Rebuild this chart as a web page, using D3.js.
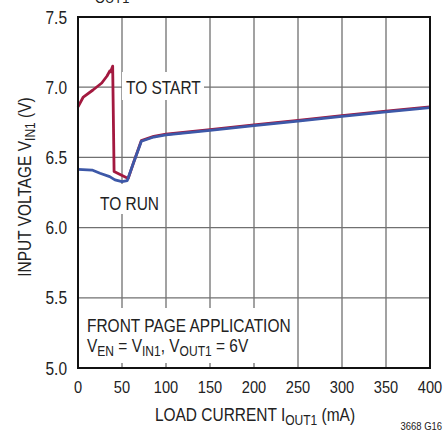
<!DOCTYPE html>
<html>
<head>
<meta charset="utf-8">
<script src="https://cdn.jsdelivr.net/npm/d3@7"></script>
<style>
  body { margin: 0; background: #fff; }
  svg { display: block; }
  text { font-family: "Liberation Sans", Arial, sans-serif; fill: #222; }
</style>
</head>
<body>
<div id="vis"></div>
<script>
// load current (mA) / input voltage (V)
var startX = [0, 6, 17, 27, 33, 36, 37, 39.4, 41, 57, 63, 72, 86, 100, 150, 200, 250, 300, 350, 400];
var startY = [6.86, 6.93, 6.98, 7.03, 7.08, 7.115, 7.11, 7.15, 6.40, 6.35, 6.46, 6.62, 6.65, 6.665, 6.698, 6.731, 6.764, 6.797, 6.829, 6.86];
var runX = [0, 16, 25, 36, 42, 50, 56, 63, 72, 86, 100, 150, 200, 250, 300, 350, 400];
var runY = [6.415, 6.41, 6.387, 6.363, 6.34, 6.327, 6.335, 6.46, 6.615, 6.645, 6.66, 6.693, 6.726, 6.759, 6.792, 6.824, 6.855];
var xTicks = [0, 50, 100, 150, 200, 250, 300, 350, 400];
var yTicks = [5.0, 5.5, 6.0, 6.5, 7.0, 7.5];

var W = 443, H = 432;
var mL = 78, mR = 430, mT = 17, mB = 368;
var SX = 0.86; // fake a narrow font

var svg = d3.select("#vis").append("svg").attr("width", W).attr("height", H);

var x = d3.scaleLinear().domain([0, 400]).range([mL, mR]);
var y = d3.scaleLinear().domain([5, 7.5]).range([mB, mT]);

// text placed through a squeezed group
function label(px, py, size, anchor, rot) {
  var g = svg.append("g")
    .attr("transform", "translate(" + px + "," + py + ")" + (rot ? " rotate(" + rot + ")" : "") + " scale(" + SX + ",1)");
  return g.append("text").attr("text-anchor", anchor || "start").style("font-size", size + "px");
}
function sub(t, parts, big, small) {
  parts.forEach(function (p, i) {
    if (i % 2 == 0) t.append("tspan").attr("dy", i ? -4 : 0).style("font-size", big + "px").text(p);
    else t.append("tspan").attr("dy", 4).style("font-size", small + "px").text(p);
  });
}

// cut-off title at the very top
label(95, 3, 15).text("OUT1");

// grid
var grid = svg.append("g").attr("stroke", "#707070").attr("stroke-width", 1.3);
grid.selectAll(".vx").data(xTicks.slice(1, -1)).enter().append("line")
  .attr("x1", d => x(d)).attr("x2", d => x(d)).attr("y1", mT).attr("y2", mB);
grid.selectAll(".hy").data(yTicks.slice(1, -1)).enter().append("line")
  .attr("x1", mL).attr("x2", mR).attr("y1", d => y(d)).attr("y2", d => y(d));

// annotation boxes hide the grid
svg.append("rect").attr("x", 122).attr("y", 72).attr("width", 82).attr("height", 28).attr("fill", "#fff");
svg.append("rect").attr("x", 97).attr("y", 184).attr("width", 63).attr("height", 30).attr("fill", "#fff");
svg.append("rect").attr("x", 82).attr("y", 308).attr("width", 213).attr("height", 55).attr("fill", "#fff");

// curves
var line = d3.line().x(d => x(d[0])).y(d => y(d[1]));
svg.append("path").datum(d3.zip(startX, startY)).attr("d", line)
  .attr("fill", "none").attr("stroke", "#a3193f").attr("stroke-width", 2.8).attr("stroke-linejoin", "round");
svg.append("path").datum(d3.zip(runX, runY)).attr("d", line)
  .attr("fill", "none").attr("stroke", "#3d58a8").attr("stroke-width", 2.8).attr("stroke-linejoin", "round");

// frame
svg.append("rect").attr("x", mL).attr("y", mT).attr("width", mR - mL).attr("height", mB - mT)
  .attr("fill", "none").attr("stroke", "#111").attr("stroke-width", 2);

// tick labels
xTicks.forEach(function (d) { label(x(d), 393, 17, "middle").text(d); });
yTicks.forEach(function (d) { label(67, y(d) + 6.5, 18, "end").text(d.toFixed(1)); });

sub(label((mL + mR) / 2 + 1, 421, 18, "middle"), ["LOAD CURRENT I", "OUT1", " (mA)"], 18, 14);
sub(label(31, 187, 18, "middle", -90), ["INPUT VOLTAGE V", "IN1", " (V)"], 18, 14);

// annotations
label(126, 94, 18).text("TO START");
label(100, 210, 18).text("TO RUN");
label(87, 332, 18).text("FRONT PAGE APPLICATION");
sub(label(87, 352, 18), ["V", "EN", " = V", "IN1", ", V", "OUT1", " = 6V"], 18, 14);

label(442, 430, 11, "end").text("3668 G16");
</script>
</body>
</html>
